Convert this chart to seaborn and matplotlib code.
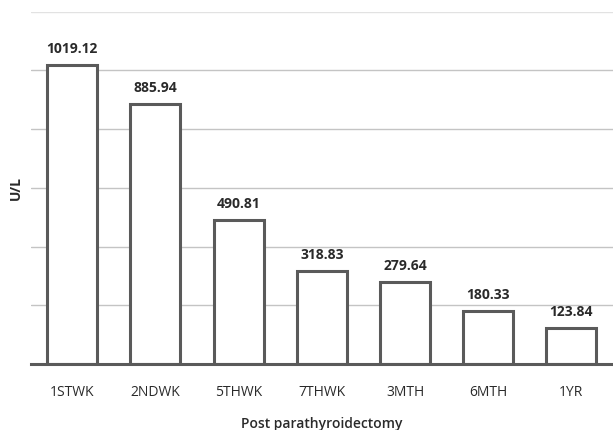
import matplotlib
matplotlib.use("Agg")
import matplotlib.pyplot as plt
import seaborn as sns
import pandas as pd

periods = ["1STWK", "2NDWK", "5THWK", "7THWK", "3MTH", "6MTH", "1YR"]
values = [1019.12, 885.94, 490.81, 318.83, 279.64, 180.33, 123.84]
y_ticks = [0, 200, 400, 600, 800, 1000, 1200]

sns.set_theme(style="white")
plt.rcParams["font.family"] = ["Open Sans", "DejaVu Sans"]

df = pd.DataFrame({"period": periods, "value": values})

fig = plt.figure(figsize=(6.13, 4.30), dpi=100)
ax = fig.add_axes([0.05, 0.153, 0.95, 0.82])

sns.barplot(data=df, x="period", y="value", ax=ax, color="white",
            edgecolor="#5a5a5a", linewidth=2.2, width=0.6, zorder=3)

ax.set_ylim(0, 1200)
ax.set_yticks(y_ticks)
ax.set_yticklabels([])
ax.tick_params(axis="y", length=0)
ax.tick_params(axis="x", length=0, labelsize=10, colors="#2a2a2a", pad=15)
ax.yaxis.grid(True, color="#c4c4c4", linewidth=1.0, zorder=0)
ax.get_ygridlines()[-1].set_color("#e2e2e2")
ax.set_axisbelow(True)

for side in ["top", "right", "left"]:
    ax.spines[side].set_visible(False)
ax.spines["bottom"].set_color("#5a5a5a")
ax.spines["bottom"].set_linewidth(2.2)
ax.spines["bottom"].set_zorder(4)

for i, v in enumerate(values):
    ax.text(i, v + 30, f"{v:.2f}", ha="center", va="bottom",
            fontsize=10, fontweight="bold", color="#2a2a2a")

ax.set_xlabel("Post parathyroidectomy", fontsize=10, fontweight="semibold",
              color="#2a2a2a", labelpad=12)
ax.set_ylabel("U/L", fontsize=10, fontweight="bold", color="#2a2a2a", labelpad=2)

fig.savefig("out.png", dpi=100)
